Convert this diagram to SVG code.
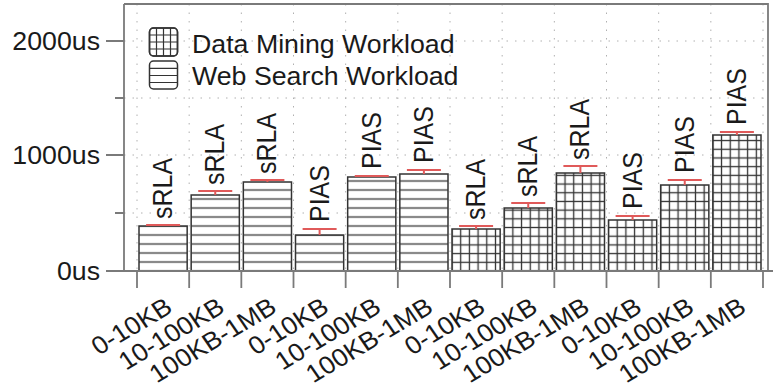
<svg xmlns="http://www.w3.org/2000/svg" width="773" height="390" viewBox="0 0 773 390">
<style>
text{font-family:"Liberation Sans",Arial,Helvetica,sans-serif;font-size:25px;fill:#1a1a1a}
.grid{stroke:#b0b0b0;stroke-width:1;stroke-dasharray:1.5 7;fill:none}
.ax{stroke:#7a7a7a;stroke-width:1.8;fill:none}
.bar{stroke:#333;stroke-width:1.5}
.web{fill:url(#hatchH)}
.dm{fill:url(#hatchG)}
.err{stroke:#e05a5a;stroke-width:2;fill:none}
.icon{fill:#fff;stroke:#333;stroke-width:1.5}
.il{stroke:#333;stroke-width:1.2}
</style>
<defs>
<pattern id="hatchH" patternUnits="userSpaceOnUse" x="0" y="5.5" width="20" height="9">
<rect width="20" height="9" fill="#fff"/>
<line x1="0" y1="4.5" x2="20" y2="4.5" stroke="#333" stroke-width="1.3"/>
</pattern>
<pattern id="hatchG" patternUnits="userSpaceOnUse" x="447.65" y="266.65" width="8.695" height="8.695">
<rect width="8.695" height="8.695" fill="#fff"/>
<line x1="0" y1="4.35" x2="8.695" y2="4.35" stroke="#333" stroke-width="1.3"/>
<line x1="4.35" y1="0" x2="4.35" y2="8.695" stroke="#333" stroke-width="1.3"/>
</pattern>
</defs>

<g id="gridlines">
<path class="grid" d="M124 41H768M124 98H768M124 155H768M124 213H768"/>
<path class="grid" d="M137 4V271M189.17 4V271M241.33 4V271M293.5 4V271M345.67 4V271M397.83 4V271M450 4V271M502.17 4V271M554.33 4V271M606.5 4V271M658.67 4V271M710.83 4V271M763 4V271"/>
</g>

<g id="bars">
<rect id="bar1" class="bar web" x="139" y="226" width="48.17" height="45"/>
<rect id="bar2" class="bar web" x="191.17" y="195" width="48.17" height="76"/>
<rect id="bar3" class="bar web" x="243.33" y="182" width="48.17" height="89"/>
<rect id="bar4" class="bar web" x="295.5" y="235" width="48.17" height="36"/>
<rect id="bar5" class="bar web" x="347.67" y="177" width="48.17" height="94"/>
<rect id="bar6" class="bar web" x="399.83" y="174" width="48.17" height="97"/>
<rect id="bar7" class="bar dm" x="452" y="229" width="48.17" height="42"/>
<rect id="bar8" class="bar dm" x="504.17" y="208" width="48.17" height="63"/>
<rect id="bar9" class="bar dm" x="556.33" y="173" width="48.17" height="98"/>
<rect id="bar10" class="bar dm" x="608.5" y="220" width="48.17" height="51"/>
<rect id="bar11" class="bar dm" x="660.67" y="185" width="48.17" height="86"/>
<rect id="bar12" class="bar dm" x="712.83" y="135" width="48.17" height="136"/>
</g>

<g id="errorbars">
<path class="err" d="M146.1 225H180.1"/>
<path class="err" d="M198.25 191H232.25M215.25 191V195"/>
<path class="err" d="M250.4 180H284.4M267.4 180V182"/>
<path class="err" d="M302.6 229H336.6M319.6 229V235"/>
<path class="err" d="M354.75 176H388.75"/>
<path class="err" d="M406.9 170H440.9M423.9 170V174"/>
<path class="err" d="M459.1 226H493.1M476.1 226V229"/>
<path class="err" d="M511.25 203H545.25M528.25 203V208"/>
<path class="err" d="M563.4 166H597.4M580.4 166V173"/>
<path class="err" d="M615.6 216H649.6M632.6 216V220"/>
<path class="err" d="M667.75 180H701.75M684.75 180V185"/>
<path class="err" d="M719.9 132H753.9M736.9 132V135"/>
</g>

<g id="barlabels">
<text transform="translate(172.1,219) scale(1.07,1) rotate(-90)">sRLA</text>
<text transform="translate(224.25,185) scale(1.07,1) rotate(-90)">sRLA</text>
<text transform="translate(276.4,174) scale(1.07,1) rotate(-90)">sRLA</text>
<text transform="translate(328.6,222) scale(1.07,1) rotate(-90)">PIAS</text>
<text transform="translate(380.75,169) scale(1.07,1) rotate(-90)">PIAS</text>
<text transform="translate(432.9,163) scale(1.07,1) rotate(-90)">PIAS</text>
<text transform="translate(485.1,220) scale(1.07,1) rotate(-90)">sRLA</text>
<text transform="translate(537.25,197) scale(1.07,1) rotate(-90)">sRLA</text>
<text transform="translate(589.4,160) scale(1.07,1) rotate(-90)">sRLA</text>
<text transform="translate(641.6,209) scale(1.07,1) rotate(-90)">PIAS</text>
<text transform="translate(693.75,173) scale(1.07,1) rotate(-90)">PIAS</text>
<text transform="translate(745.9,125) scale(1.07,1) rotate(-90)">PIAS</text>
</g>

<g id="legend">
<g id="legend-dm">
<rect class="icon" x="149.5" y="28" width="28" height="28" rx="4"/>
<path class="il" d="M156.5 28V56M163.5 28V56M170.5 28V56M149.5 35H177.5M149.5 42H177.5M149.5 49H177.5"/>
<rect x="149.5" y="28" width="28" height="28" rx="4" fill="none" stroke="#333" stroke-width="1.5"/>
<text transform="translate(192,53) scale(1.07,1)">Data Mining Workload</text>
</g>
<g id="legend-web">
<rect class="icon" x="149.5" y="61" width="28" height="28" rx="4"/>
<path class="il" d="M150 68.3H177M150 75.5H177M150 82.5H177"/>
<text transform="translate(192,85) scale(1.07,1)">Web Search Workload</text>
</g>
</g>

<g id="axes">
<path class="ax" d="M124 4H768V271M124 4V271M106 271H773"/>
<path class="ax" d="M106 41H124M106 155H124M115 98H124M115 213H124"/>
<path class="ax" d="M137 271V288M189.17 271V288M241.33 271V288M293.5 271V288M345.67 271V288M397.83 271V288M450 271V288M502.17 271V288M554.33 271V288M606.5 271V288M658.67 271V288M710.83 271V288M763 271V288"/>
<text text-anchor="end" transform="translate(100,49.5) scale(1.07,1)">2000us</text>
<text text-anchor="end" transform="translate(100,163.5) scale(1.07,1)">1000us</text>
<text text-anchor="end" transform="translate(100,280) scale(1.07,1)">0us</text>
</g>

<g id="xlabels">
<text text-anchor="end" transform="translate(174,311) scale(1.07,1) rotate(-32.5)">0-10KB</text>
<text text-anchor="end" transform="translate(226.25,311) scale(1.07,1) rotate(-32.5)">10-100KB</text>
<text text-anchor="end" transform="translate(278.4,311) scale(1.07,1) rotate(-32.5)">100KB-1MB</text>
<text text-anchor="end" transform="translate(330.6,311) scale(1.07,1) rotate(-32.5)">0-10KB</text>
<text text-anchor="end" transform="translate(382.75,311) scale(1.07,1) rotate(-32.5)">10-100KB</text>
<text text-anchor="end" transform="translate(434.9,311) scale(1.07,1) rotate(-32.5)">100KB-1MB</text>
<text text-anchor="end" transform="translate(487.1,311) scale(1.07,1) rotate(-32.5)">0-10KB</text>
<text text-anchor="end" transform="translate(539.25,311) scale(1.07,1) rotate(-32.5)">10-100KB</text>
<text text-anchor="end" transform="translate(591.4,311) scale(1.07,1) rotate(-32.5)">100KB-1MB</text>
<text text-anchor="end" transform="translate(643.6,311) scale(1.07,1) rotate(-32.5)">0-10KB</text>
<text text-anchor="end" transform="translate(695.75,311) scale(1.07,1) rotate(-32.5)">10-100KB</text>
<text text-anchor="end" transform="translate(747.9,311) scale(1.07,1) rotate(-32.5)">100KB-1MB</text>
</g>
</svg>
